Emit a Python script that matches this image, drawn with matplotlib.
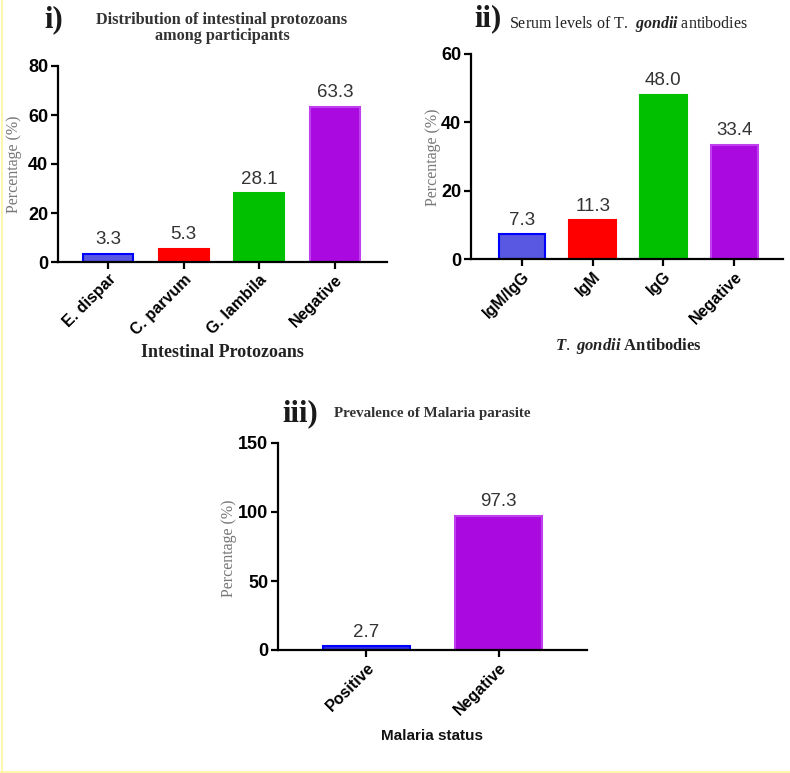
import matplotlib.pyplot as plt
from matplotlib.lines import Line2D

plt.rcParams['mathtext.fontset'] = 'custom'
plt.rcParams['mathtext.rm'] = 'Liberation Serif'
plt.rcParams['mathtext.it'] = 'Liberation Serif:italic:bold'
plt.rcParams['mathtext.bf'] = 'Liberation Serif:bold'

# data
protozoa = ['E. dispar', 'C. parvum', 'G. lambila', 'Negative']
protozoa_pct = [3.3, 5.3, 28.1, 63.3]
antibodies = ['IgM/IgG', 'IgM', 'IgG', 'Negative']
antibodies_pct = [7.3, 11.3, 48.0, 33.4]
malaria = ['Positive', 'Negative']
malaria_pct = [2.7, 97.3]

W, H = 790, 773
fig = plt.figure(figsize=(W / 100, H / 100), dpi=100)


def px(x, y):
    return x / W, 1 - y / H


def box(l, t, r, b):
    return [l / W, 1 - b / H, (r - l) / W, (b - t) / H]


fill4 = ['#5858e2', '#ff0000', '#00c000', '#aa0ae0']
edge4 = ['#0000ff', '#ff0000', '#00c000', '#c040f0']


def panel(rect, cats, vals, fills, edges, ymax, step, xlim):
    ax = fig.add_axes(rect)
    x = range(len(cats))
    ax.bar(x, vals, width=0.66, color=fills, edgecolor=edges, linewidth=1.5)
    for i, v in zip(x, vals):
        ax.annotate(f'{v:.1f}', (i, v), xytext=(0, 4), textcoords='offset points',
                    ha='center', va='bottom', fontsize=13.5, color='#333333',
                    family='Liberation Sans')
    ax.set_ylim(0, ymax)
    ax.set_yticks(range(0, ymax + 1, step))
    ax.set_xlim(*xlim)
    ax.set_xticks(list(x))
    ax.set_xticklabels(cats, rotation=45, ha='right', rotation_mode='anchor',
                       fontsize=11.5, fontweight='bold', family='Liberation Sans')
    for lab in ax.get_yticklabels():
        lab.set_fontweight('bold')
        lab.set_family('Liberation Sans')
        lab.set_fontsize(13)
    ax.spines['top'].set_visible(False)
    ax.spines['right'].set_visible(False)
    ax.spines['left'].set_linewidth(1.6)
    ax.spines['bottom'].set_linewidth(1.6)
    ax.tick_params(width=1.6, length=5, pad=2)
    return ax


panel(box(58, 66, 387, 262), protozoa, protozoa_pct, fill4, edge4, 80, 20, (-0.66, 3.69))
panel(box(471, 54, 783, 259), antibodies, antibodies_pct, fill4, edge4, 60, 20, (-0.72, 3.69))
panel(box(278, 443, 587, 650), malaria, malaria_pct, ['#3030e8', '#aa0ae0'],
      ['#0000ff', '#c040f0'], 150, 50, (-0.67, 1.67))

serif = 'Liberation Serif'
# panel labels
for s, (x, y) in [('i)', (44, 20)), ('ii)', (474, 19)), ('iii)', (282, 414))]:
    fig.text(*px(x, y), s, fontsize=22, fontweight='semibold', family=serif,
             color='#1a1a1a', va='center')

# titles
fig.text(*px(222, 28), 'Distribution of intestinal protozoans\namong participants',
         ha='center', va='center', fontsize=11.7, fontweight='bold', family=serif,
         color='#333333', linespacing=1.05)
fig.text(*px(509, 24), r'Serum levels of T.  $\mathit{gondii}$ antibodies', ha='left',
         va='center', fontsize=11.5, family=serif, color='#222222')
fig.text(*px(334, 413), 'Prevalence of Malaria parasite', ha='left', va='center',
         fontsize=10.8, fontweight='bold', family=serif, color='#333333')

# y labels
for x, y in [(14, 164), (433, 157), (229, 548)]:
    fig.text(*px(x, y), 'Percentage (%)', rotation=90, ha='center', va='center',
             fontsize=11.5, family=serif, color='#777777')

# x labels
fig.text(*px(222, 352), 'Intestinal Protozoans', ha='center', va='center',
         fontsize=13, fontweight='bold', family=serif, color='#222222')
fig.text(*px(628, 346), r'$\mathit{T.\ gondii}$ Antibodies', ha='center', va='center',
         fontsize=12, fontweight='bold', family=serif, color='#222222')
fig.text(*px(432, 736), 'Malaria status', ha='center', va='center',
         fontsize=11, fontweight='bold', family='Liberation Sans', color='#111111')

# faint frame on left and bottom
fig.add_artist(Line2D([1.5 / W, 1.5 / W], [1, 1.5 / H], color='#fff59d', lw=1.2))
fig.add_artist(Line2D([0, 1], [1.5 / H, 1.5 / H], color='#fff59d', lw=1.2))

fig.savefig('out.png', dpi=100)
